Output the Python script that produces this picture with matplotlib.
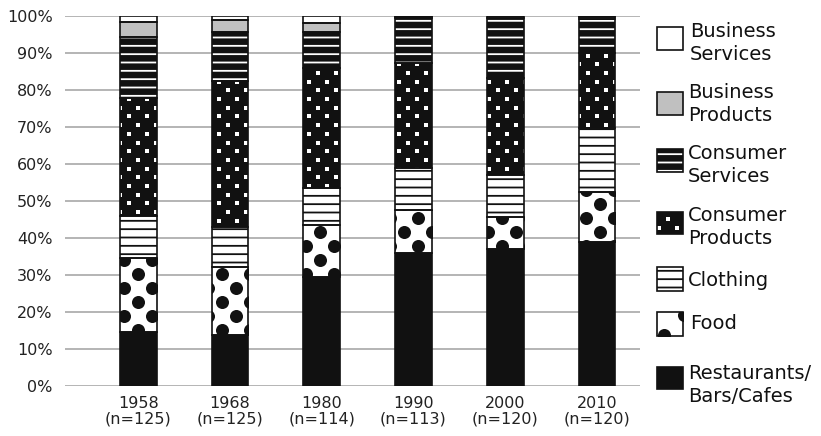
import numpy as np
import matplotlib
matplotlib.use('Agg')
import matplotlib.pyplot as plt
from matplotlib.patches import Rectangle

# survey years and sample sizes
years = ['1958', '1968', '1980', '1990', '2000', '2010']
sizes = [125, 125, 114, 113, 120, 120]

# share of businesses per category (%), bottom to top
restaurants = [14.6, 13.8, 29.5, 36.0, 36.9, 39.0]
food = [20.0, 18.4, 14.0, 11.6, 8.9, 13.4]
clothing = [11.4, 10.8, 10.1, 11.2, 11.2, 17.2]
consumer_products = [31.8, 39.3, 32.3, 28.4, 26.2, 20.3]
consumer_services = [16.4, 13.5, 9.8, 12.2, 16.3, 9.4]
business_products = [4.3, 3.0, 2.3, 0.4, 0.5, 0.5]
business_services = [1.5, 1.2, 2.0, 0.2, 0.0, 0.2]

labels = ['Restaurants/\nBars/Cafes', 'Food', 'Clothing', 'Consumer\nProducts',
          'Consumer\nServices', 'Business\nProducts', 'Business\nServices']
series = [restaurants, food, clothing, consumer_products,
          consumer_services, business_products, business_services]

BLACK = '#111111'
GRAY = '#c0c0c0'

# face colour, hatch, hatch colour, dot pattern
styles = [
    dict(fc=BLACK, hatch=None, hc=BLACK, dots=None),
    dict(fc='white', hatch=None, hc=BLACK, dots='food'),
    dict(fc='white', hatch='--', hc=BLACK, dots=None),
    dict(fc=BLACK, hatch=None, hc=BLACK, dots='squares'),
    dict(fc=BLACK, hatch='--', hc='white', dots=None),
    dict(fc=GRAY, hatch=None, hc=GRAY, dots=None),
    dict(fc='white', hatch=None, hc='white', dots=None),
]

plt.rcParams['hatch.linewidth'] = 1.3


def add_dots(ax, patch, kind, xstep, ystep, x0=0.0, y0=0.0):
    # staggered grid of dots/squares clipped to the patch
    bx, by = patch.get_x(), patch.get_y()
    w, h = patch.get_width(), patch.get_height()
    if h == 0:
        return
    lo, hi = min(by, by + h), max(by, by + h)
    xs, ys = [], []
    for i in range(int(np.floor((lo - y0) / ystep)) - 1, int(np.ceil((hi - y0) / ystep)) + 2):
        off = x0 + (i % 2) * xstep / 2
        for j in range(int(np.floor((bx - off) / xstep)) - 1,
                       int(np.ceil((bx + w - off) / xstep)) + 2):
            xs.append(j * xstep + off)
            ys.append(i * ystep + y0)
    if kind == 'food':
        sc = ax.scatter(xs, ys, s=88, c=BLACK, marker='o', linewidths=0, zorder=3)
    else:
        sc = ax.scatter(xs, ys, s=8, c='white', marker='s', linewidths=0, zorder=3)
    sc.set_clip_path(patch)


fig = plt.figure(figsize=(8.21, 4.36), dpi=100)
ax = fig.add_axes([65 / 821, 1 - 386 / 436, (640 - 65) / 821, 370 / 436])

x = np.arange(len(years))
width = 0.40
bottom = np.zeros(len(years))
for vals, st in zip(series, styles):
    vals = np.array(vals)
    bars = ax.bar(x, vals, width, bottom=bottom, color=st['fc'], hatch=st['hatch'],
                  edgecolor=st['hc'], linewidth=0, zorder=2)
    if st['dots'] == 'food':
        for p in bars.patches:
            add_dots(ax, p, 'food', 0.305, 3.78)
    elif st['dots'] == 'squares':
        for p in bars.patches:
            add_dots(ax, p, 'squares', 0.196, 2.35)
    ax.bar(x, vals, width, bottom=bottom, fill=False, edgecolor=BLACK,
           linewidth=1.2, zorder=4)
    bottom += vals

ax.set_xlim(-0.8, 5.47)
ax.set_ylim(0, 100)
ax.set_yticks(np.arange(0, 101, 10))
ax.set_yticklabels([f'{v}%' for v in range(0, 101, 10)], fontsize=11.5, color='#222222')
ax.set_xticks(x)
ax.set_xticklabels([f'{y}\n(n={n})' for y, n in zip(years, sizes)],
                   fontsize=11.5, color='#222222', linespacing=1.1)
ax.tick_params(axis='both', length=0)
ax.tick_params(axis='y', pad=9)
ax.tick_params(axis='x', pad=7)
ax.grid(axis='y', color='#a8a8a8', linewidth=1.2)
ax.set_axisbelow(True)
for s in ax.spines.values():
    s.set_visible(False)

# legend drawn in pixel coordinates
lax = fig.add_axes([0, 0, 1, 1])
lax.set_xlim(0, 821)
lax.set_ylim(436, 0)
lax.axis('off')
lax.patch.set_alpha(0)

# (series index, box top, box bottom, text centre, text x), top to bottom
entries = [
    (6, 27, 50, 43, 690),
    (5, 92, 115, 104, 688),
    (4, 149, 172, 165, 688),
    (3, 212, 234, 227, 688),
    (2, 267, 291, 280, 688),
    (1, 312, 336, 323, 690),
    (0, 367, 389, 385, 688),
]
for idx, top, bot, ty, tx in entries:
    st = styles[idx]
    r = Rectangle((657, top), 26, bot - top, facecolor=st['fc'], hatch=st['hatch'],
                  edgecolor=st['hc'], linewidth=0, zorder=2)
    lax.add_patch(r)
    if st['dots'] == 'food':
        add_dots(lax, r, 'food', 40, 20, x0=4, y0=-5)
    elif st['dots'] == 'squares':
        add_dots(lax, r, 'squares', 18, 9, x0=2, y0=3)
    lax.add_patch(Rectangle((657, top), 26, bot - top, fill=False,
                            edgecolor=BLACK, linewidth=1.2, zorder=4))
    lax.text(tx, ty, labels[idx], fontsize=14, va='center', ha='left',
             linespacing=1.3, color='#111111')

fig.savefig('out.png', dpi=100)
